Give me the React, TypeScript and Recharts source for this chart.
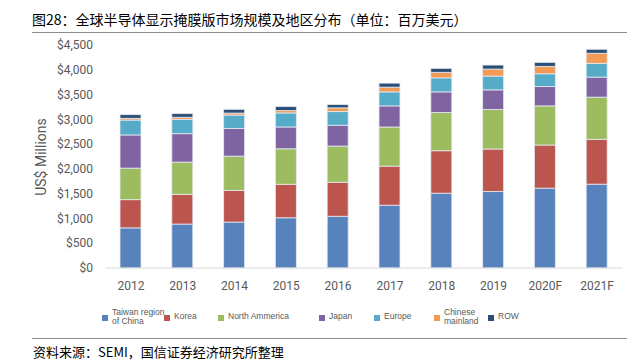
import { BarChart, Bar, XAxis, YAxis } from 'recharts'

const YEARS = ['2012', '2013', '2014', '2015', '2016', '2017', '2018', '2019', '2020F', '2021F']
const TAIWAN = [810, 886, 926, 1014, 1043, 1266, 1509, 1543, 1610, 1691]
const KOREA = [570, 600, 640, 675, 688, 789, 858, 857, 871, 905]
const NORTH_AMERICA = [635, 650, 690, 717, 729, 790, 770, 798, 790, 851]
const JAPAN = [670, 575, 560, 440, 420, 426, 417, 397, 391, 405]
const EUROPE = [300, 290, 270, 283, 277, 283, 284, 277, 257, 277]
const CHINA = [35, 40, 40, 48, 75, 95, 109, 142, 149, 203]
const ROW = [75, 75, 75, 81, 67, 81, 81, 81, 81, 81]
const Y_TICKS = [0, 500, 1000, 1500, 2000, 2500, 3000, 3500, 4000, 4500]

const SERIES = [
  { key: 'taiwan', name: ['Taiwan region', 'of China'], color: '#5882bc', values: TAIWAN },
  { key: 'korea', name: ['Korea'], color: '#bd554f', values: KOREA },
  { key: 'na', name: ['North Ammerica'], color: '#9dbb5f', values: NORTH_AMERICA },
  { key: 'japan', name: ['Japan'], color: '#8064a2', values: JAPAN },
  { key: 'europe', name: ['Europe'], color: '#55abc8', values: EUROPE },
  { key: 'china', name: ['Chinese', 'mainland'], color: '#f39a55', values: CHINA },
  { key: 'row', name: ['ROW'], color: '#2c4d75', values: ROW },
]

// legend item left edges (square), px
const LEGEND_X = [102, 164, 218, 319, 374, 434, 488]

const rows = YEARS.map((year, i) => {
  const r: Record<string, any> = { year }
  SERIES.forEach(s => { r[s.key] = s.values[i] })
  return r
})

const GRAY = '#595959'

export default function App() {
  return (
    <div style={{ position: 'fixed', left: 0, top: 0, width: 636, height: 364, background: '#fff', overflow: 'hidden' }}>
      <div style={{ position: 'absolute', left: 32, top: 9, fontSize: 14, lineHeight: '20px', color: '#000', fontFamily: '"Noto Sans CJK SC", sans-serif', whiteSpace: 'nowrap' }}>
        图28：全球半导体显示掩膜版市场规模及地区分布（单位：百万美元）
      </div>
      <div style={{ position: 'absolute', left: 32, top: 32, width: 595, borderTop: '1px solid #8c8c8c' }} />

      <div style={{ position: 'absolute', left: 0, top: 0 }}>
        <BarChart width={636} height={364} data={rows} margin={{ top: 45, right: 13, bottom: 66, left: 0 }} barSize={21}>
          <XAxis
            dataKey="year"
            axisLine={{ stroke: '#d9d9d9' }}
            tickLine={false}
            tickMargin={7}
            tick={{ fill: GRAY, fontSize: 12, fontFamily: 'Roboto' }}
          />
          <YAxis
            width={105}
            domain={[0, 4500]}
            ticks={Y_TICKS}
            axisLine={false}
            tickLine={false}
            tickMargin={6}
            tickFormatter={(v: number) => `$${v.toLocaleString('en-US')}`}
            tick={{ fill: GRAY, fontSize: 12, fontFamily: 'Roboto' }}
            label={{
              content: () => (
                <text x={42} y={157} transform="rotate(-90 42 157)" textAnchor="middle" dominantBaseline="middle"
                  fill={GRAY} fontSize={14} fontFamily="Roboto">US$ Millions</text>
              ),
            }}
          />
          {SERIES.map(s => (
            <Bar key={s.key} dataKey={s.key} stackId="a" fill={s.color} stroke="#e6ebf3" strokeWidth={0.8} isAnimationActive={false} />
          ))}
        </BarChart>
      </div>

      {SERIES.map((s, i) => (
        <div key={s.key} style={{ position: 'absolute', left: LEGEND_X[i], top: 310, height: 14, display: 'flex', alignItems: 'center', fontFamily: '"Liberation Sans", Arial, sans-serif', fontSize: 8.5, color: GRAY }}>
          <div style={{ width: 6, height: 6, background: s.color, marginRight: 4, marginTop: 1 }} />
          <div style={{ lineHeight: '9.5px' }}>
            {s.name.map(n => <div key={n}>{n}</div>)}
          </div>
        </div>
      ))}

      <div style={{ position: 'absolute', left: 32, top: 338, width: 595, borderTop: '1px solid #8c8c8c' }} />
      <div style={{ position: 'absolute', left: 33, top: 343, fontSize: 13, lineHeight: '18px', color: '#000', fontFamily: '"Noto Sans CJK SC", sans-serif', whiteSpace: 'nowrap' }}>
        资料来源：SEMI，国信证券经济研究所整理
      </div>
    </div>
  )
}
